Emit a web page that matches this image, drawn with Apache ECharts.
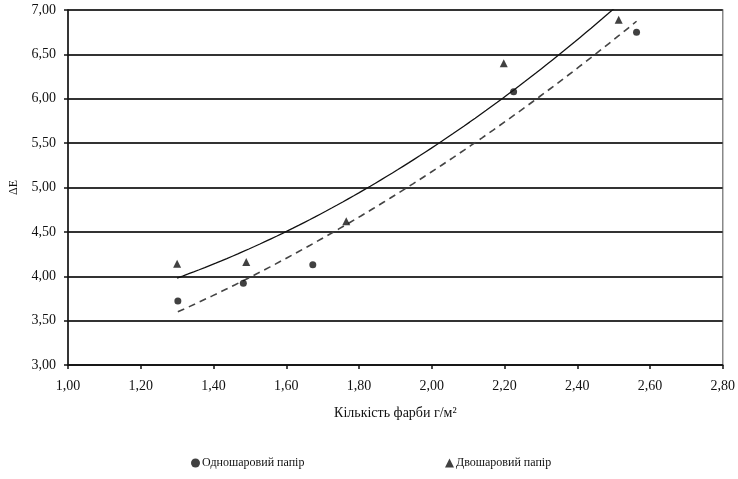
<!DOCTYPE html>
<html>
<head>
<meta charset="utf-8">
<script src="https://cdn.jsdelivr.net/npm/echarts@6/dist/echarts.min.js"></script>
<style>
html,body{margin:0;padding:0;background:#fff;}
#c{width:738px;height:479px;}
</style>
</head>
<body>
<div id="c"></div>
<script>
// Data
const singleX = [1.302, 1.482, 1.673, 2.225, 2.563];
const singleY = [3.72, 3.92, 4.13, 6.08, 6.75];
const doubleX = [1.300, 1.490, 1.765, 2.198, 2.514];
const doubleY = [4.14, 4.16, 4.62, 6.40, 6.89];
const seriesNames = ['Одношаровий папір', 'Двошаровий папір'];
const xAxisTitle = 'Кількість фарби г/м²';
const yAxisTitle = 'ΔE';

// Quadratic least squares trendline (as in the original spreadsheet chart)
function quadFit(xs, ys) {
  let S = [0,0,0,0,0], T = [0,0,0];
  for (let i = 0; i < xs.length; i++) {
    let p = 1;
    for (let k = 0; k < 5; k++) { S[k] += p; if (k < 3) T[k] += p * ys[i]; p *= xs[i]; }
  }
  const A = [[S[0],S[1],S[2],T[0]],[S[1],S[2],S[3],T[1]],[S[2],S[3],S[4],T[2]]];
  for (let i = 0; i < 3; i++) {
    for (let j = i+1; j < 3; j++) {
      const f = A[j][i] / A[i][i];
      for (let k = i; k < 4; k++) A[j][k] -= f * A[i][k];
    }
  }
  const c = [0,0,0];
  for (let i = 2; i >= 0; i--) {
    let s = A[i][3];
    for (let k = i+1; k < 3; k++) s -= A[i][k] * c[k];
    c[i] = s / A[i][i];
  }
  return c;
}
function trend(xs, ys) {
  const c = quadFit(xs, ys);
  const lo = Math.min(...xs), hi = Math.max(...xs);
  const out = [];
  const n = 80;
  for (let i = 0; i <= n; i++) {
    const x = lo + (hi - lo) * i / n;
    out.push([x, c[0] + c[1]*x + c[2]*x*x]);
  }
  return out;
}
const pts = (xs, ys) => xs.map((x, i) => [x, ys[i]]);

const font = 'Liberation Serif';
const fmt = v => v.toFixed(2).replace('.', ',');

const chart = echarts.init(document.getElementById('c'), null, {renderer: 'canvas'});
chart.setOption({
  backgroundColor: '#fff',
  animation: false,
  grid: {left: 66, right: 14, top: 10, bottom: 114, containLabel: false,
         show: true, borderColor: '#888', borderWidth: 1.5, backgroundColor: 'transparent'},
  legend: [
    {data: [seriesNames[0]], left: 186, top: 452, itemWidth: 9, itemHeight: 9, itemGap: 2,
     textStyle: {fontFamily: font, fontSize: 12, color: '#111', padding: [0,0,0,-3]}},
    {data: [seriesNames[1]], left: 440, top: 452, itemWidth: 9, itemHeight: 9, itemGap: 2,
     textStyle: {fontFamily: font, fontSize: 12, color: '#111', padding: [0,0,0,-3]}}
  ],
  xAxis: {
    type: 'value', min: 1, max: 2.8, interval: 0.2,
    name: xAxisTitle, nameLocation: 'middle', nameGap: 41,
    nameTextStyle: {fontFamily: font, fontSize: 14, color: '#111'},
    axisLine: {show: true, lineStyle: {color: '#111', width: 1.5}},
    axisTick: {show: true, length: 4, lineStyle: {color: '#111', width: 1.5}},
    axisLabel: {fontFamily: font, fontSize: 14, color: '#111', margin: 14, formatter: fmt},
    splitLine: {show: false}
  },
  yAxis: {
    type: 'value', min: 3, max: 7, interval: 0.5,
    name: yAxisTitle, nameLocation: 'middle', nameGap: 48,
    nameTextStyle: {fontFamily: font, fontSize: 12, color: '#111'},
    axisLine: {show: true, lineStyle: {color: '#111', width: 1.5}},
    axisTick: {show: true, length: 4, lineStyle: {color: '#111', width: 1.5}},
    axisLabel: {fontFamily: font, fontSize: 14, color: '#111', margin: 12, formatter: fmt},
    splitLine: {show: true, lineStyle: {color: '#333', width: 2}}
  },
  series: [
    {name: seriesNames[0], type: 'scatter', data: pts(singleX, singleY),
     symbol: 'circle', symbolSize: 7, itemStyle: {color: '#111'}, z: 5},
    {name: seriesNames[1], type: 'scatter', data: pts(doubleX, doubleY),
     symbol: 'triangle', symbolSize: 8, itemStyle: {color: '#111'}, z: 5},
    {name: 'trend1', type: 'line', data: trend(singleX, singleY), showSymbol: false,
     symbol: 'none', clip: true, lineStyle: {color: '#444', width: 1.6, type: [7, 5]}, z: 4},
    {name: 'trend2', type: 'line', data: trend(doubleX, doubleY), showSymbol: false,
     symbol: 'none', clip: true, lineStyle: {color: '#111', width: 1.3}, z: 4}
  ]
});
</script>
</body>
</html>
